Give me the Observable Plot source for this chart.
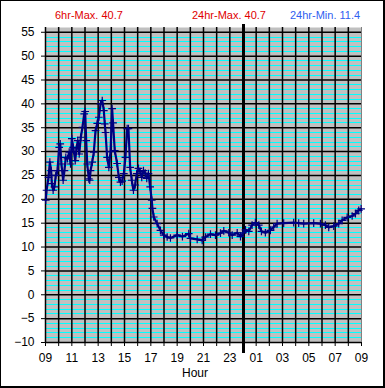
<!DOCTYPE html>
<html>
<head>
<meta charset="utf-8">
<script src="https://cdn.jsdelivr.net/npm/d3@7"></script>
<script src="https://cdn.jsdelivr.net/npm/@observablehq/plot@0.6"></script>
<style>
  html, body { margin: 0; padding: 0; background: #fff; }
  #wrap { position: relative; width: 385px; height: 388px; overflow: hidden; font-family: "Liberation Sans", Arial, sans-serif; }
  #wrap svg { position: absolute; left: 0; top: 0; }
  .hdr { position: absolute; top: 10px; font-size: 11px; line-height: 11px; white-space: nowrap; }
  #border { position: absolute; left: 0; top: 0; width: 385px; height: 388px; box-sizing: border-box;
            border-left: 1px solid #000; border-top: 1px solid #000; border-right: 2px solid #000; border-bottom: 2px solid #000; pointer-events: none; }
  #xlabel { position: absolute; left: 145px; width: 100px; top: 367px; text-align: center; font-size: 12px; line-height: 12px; }
</style>
</head>
<body>
<div id="wrap">
  <div class="hdr" id="h1" style="left:55px;color:#e00000"></div>
  <div class="hdr" id="h2" style="left:192px;color:#e00000"></div>
  <div class="hdr" id="h3" style="left:290px;color:#3060f0"></div>
  <div id="xlabel"></div>
  <div id="border"></div>
</div>
<script>
// hours since 09:00
const hours = [0.02,0.08,0.23,0.33,0.43,0.48,0.58,0.68,0.78,0.91,1.04,1.12,1.21,1.34,1.44,1.54,1.67,1.80,1.90,2.00,2.10,2.26,2.35,2.45,2.56,2.68,2.81,2.94,3.01,3.09,3.17,3.29,3.36,3.42,3.55,3.67,3.80,3.93,4.05,4.18,4.31,4.43,4.50,4.56,4.68,4.81,4.94,5.01,5.06,5.13,5.26,5.44,5.57,5.69,5.82,5.95,6.07,6.20,6.30,6.43,6.55,6.68,6.81,6.93,7.06,7.19,7.31,7.44,7.57,7.69,7.82,7.95,8.07,8.12,8.22,8.48,8.73,8.98,9.24,9.49,10.0,10.4,10.88,11.01,11.52,11.9,12.15,12.53,12.91,13.29,13.54,13.92,14.18,14.56,14.81,15.01,15.19,15.44,15.69,15.94,16.2,16.4,16.7,17.08,17.33,17.59,18.09,18.85,19.23,19.61,20.37,20.88,21.26,21.51,21.89,22.27,22.53,22.91,23.29,23.54,23.79,23.97];
const temps = [19.8,21.9,24.6,27.8,26,23.3,21.9,22.6,25,26,30.9,31.6,27.4,24,26,28.8,28.5,29.9,27.4,32.7,30.9,28.1,30.6,32.3,29.5,33,35.1,37.9,38.4,32.3,27.4,24.3,24,26,27.8,29.9,34.4,35.9,37.2,40,40.7,38.6,35.8,34,28.8,26.7,30,35,39,36,30.2,27.5,24.6,23.6,23.8,25.4,28.8,34.8,34.8,26.7,24,21.9,23,25.4,26.5,25.8,24.6,26,25.5,24.4,25.4,22.6,19.8,18.1,16.3,14.9,13.5,12.5,12.1,11.9,12.5,12.2,12.8,11.8,11.6,11.4,12.1,12.7,12.5,12.9,13.4,13,12.5,13,12.2,13,13.6,13.3,14.6,15.1,14.6,13.3,13,13.5,14.2,14.9,15,15.1,15,14.9,15,14.9,14.6,14.1,14.4,14.9,15.6,16.2,16.5,17,17.7,18];

const yTicks = [-10,-5,0,5,10,15,20,25,30,35,40,45,50,55];
const xTicks = [0,2,4,6,8,10,12,14,16,18,20,22,24];
const xTickLabels = ["09","11","13","15","17","19","21","23","01","03","05","07","09"];
const hourLines = d3.range(0, 24);
const minorY = d3.range(-9, 55).filter(v => v % 5 !== 0);
const midnight = [15];

const headers = ["6hr-Max. 40.7", "24hr-Max. 40.7", "24hr-Min. 11.4"];
const xLabel = "Hour";

const data = hours.map((h, i) => ({h, t: temps[i]}));

const chart = Plot.plot({
  width: 385,
  height: 388,
  marginLeft: 45,
  marginRight: 24,
  marginTop: 27,
  marginBottom: 46,
  style: {fontFamily: "'Liberation Sans', Arial, sans-serif", fontSize: "12px", color: "#000", background: "transparent"},
  x: {domain: [0, 24]},
  y: {domain: [-10, 56]},
  marks: [
    Plot.frame({fill: "#c0c0c0", stroke: null}),
    Plot.ruleY(minorY, {stroke: "#00ffff", strokeWidth: 1, shapeRendering: "crispEdges"}),
    Plot.ruleY(yTicks, {stroke: "#000", strokeWidth: 1.5}),
    Plot.ruleX(hourLines, {stroke: "#000", strokeWidth: 1.5}),
    Plot.ruleX([24], {stroke: "#808080", strokeWidth: 1, shapeRendering: "crispEdges"}),
    Plot.ruleX(midnight, {stroke: "#000", strokeWidth: 3, insetTop: -3, insetBottom: -11, clip: false, shapeRendering: "crispEdges"}),
    Plot.line(data, {x: "h", y: "t", stroke: "#000080", strokeWidth: 2.2}),
    Plot.dot(data, {x: "h", y: "t", symbol: "plus", r: 2.6, stroke: "#000080", strokeWidth: 1.2}),
    Plot.axisY({ticks: yTicks, tickSize: 4, tickPadding: 7, label: null}),
    Plot.axisX({ticks: d3.range(0, 25), tickSize: 4, tickPadding: 7, label: null,
      tickFormat: d => { const i = xTicks.indexOf(d); return i >= 0 ? xTickLabels[i] : ""; }})
  ]
});

const wrap = document.getElementById("wrap");
wrap.insertBefore(chart, wrap.firstChild);
document.getElementById("h1").textContent = headers[0];
document.getElementById("h2").textContent = headers[1];
document.getElementById("h3").textContent = headers[2];
document.getElementById("xlabel").textContent = xLabel;
</script>
</body>
</html>
